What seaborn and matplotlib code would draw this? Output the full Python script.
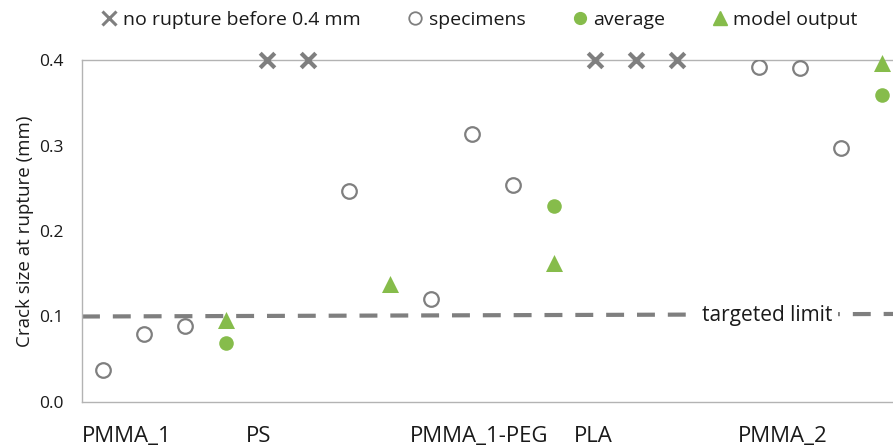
import numpy as np
import pandas as pd
import matplotlib.pyplot as plt
import seaborn as sns
from matplotlib.lines import Line2D

# categories (4 slots each on the x axis)
materials = ["PMMA_1", "PS", "PMMA_1-PEG", "PLA", "PMMA_2"]
slots_per_material = 4

# specimens (slot index, crack size mm)
spec_slot = [0, 1, 2, 6, 8, 9, 10, 16, 17, 18]
spec_val = [0.037, 0.079, 0.089, 0.247, 0.120, 0.313, 0.254, 0.392, 0.391, 0.297]

# no rupture before 0.4 mm
norup_slot = [4, 5, 12, 13, 14]
norup_val = [0.4, 0.4, 0.4, 0.4, 0.4]

# average
avg_slot = [3, 11, 19]
avg_val = [0.069, 0.229, 0.359]

# model output
model_slot = [3, 7, 11, 19]
model_val = [0.096, 0.138, 0.162, 0.396]

# targeted limit line (ends)
limit_x = [-0.5, 19.5]
limit_y = [0.100, 0.103]

gray = "#7f7f7f"
green = "#86bc4b"
axcol = "#b3b3b3"
txt = "#1a1a1a"

sns.set_style("white")
plt.rcParams["font.family"] = ["Open Sans", "DejaVu Sans"]
plt.rcParams["text.color"] = txt
plt.rcParams["axes.labelcolor"] = txt
plt.rcParams["xtick.color"] = axcol
plt.rcParams["ytick.color"] = axcol
plt.rcParams["xtick.labelcolor"] = txt
plt.rcParams["ytick.labelcolor"] = txt

fig = plt.figure(figsize=(8.93, 4.46), dpi=100)
ax = fig.add_axes([82 / 893, 44 / 446, 820 / 893, 342 / 446])

# targeted limit
sns.lineplot(x=limit_x, y=limit_y, ax=ax, color=gray, linewidth=3,
             dashes=False, zorder=1)
ax.lines[-1].set_dashes((4.3, 3.1))
ax.text(16.2, 0.1015, "targeted limit", ha="center", va="center", fontsize=15,
        color=txt, zorder=2,
        bbox=dict(boxstyle="square,pad=0.3", fc="white", ec="none"))

df_spec = pd.DataFrame({"slot": spec_slot, "val": spec_val})
df_norup = pd.DataFrame({"slot": norup_slot, "val": norup_val})
df_avg = pd.DataFrame({"slot": avg_slot, "val": avg_val})
df_model = pd.DataFrame({"slot": model_slot, "val": model_val})

sns.scatterplot(data=df_spec, x="slot", y="val", ax=ax, marker="o", s=110,
                facecolor="white", edgecolor=gray, linewidth=1.6, zorder=3)
sns.scatterplot(data=df_norup, x="slot", y="val", ax=ax, marker="x", s=110,
                color=gray, linewidth=3, zorder=3, clip_on=False)
sns.scatterplot(data=df_avg, x="slot", y="val", ax=ax, marker="o", s=110,
                color=green, edgecolor=green, linewidth=0, zorder=4)
sns.scatterplot(data=df_model, x="slot", y="val", ax=ax, marker="^", s=150,
                color=green, edgecolor=green, linewidth=0, zorder=4, clip_on=False)

ax.set_xlim(-0.5, 19.5)
ax.set_ylim(0, 0.4)
ax.set_yticks([0.0, 0.1, 0.2, 0.3, 0.4])
ax.set_yticklabels(["0.0", "0.1", "0.2", "0.3", "0.4"], fontsize=12.5)
tick_pos = [-0.5 + slots_per_material * i for i in range(len(materials))]
ax.set_xticks(tick_pos)
ax.set_xticklabels(materials, fontsize=16, ha="left")
ax.tick_params(axis="x", direction="inout", length=12, width=1, pad=11)
ax.tick_params(axis="y", direction="out", length=4, width=1, pad=9)
ax.set_xlabel("")
ax.set_ylabel("Crack size at rupture (mm)", fontsize=13.5, labelpad=4)

for side in ["left", "bottom", "top"]:
    ax.spines[side].set_color(axcol)
    ax.spines[side].set_linewidth(1)
ax.spines["right"].set_visible(False)

handles = [
    Line2D([], [], ls="none", marker="x", ms=10, mew=2.2, color=gray),
    Line2D([], [], ls="none", marker="o", ms=9, mfc="white", mec=gray, mew=1.3),
    Line2D([], [], ls="none", marker="o", ms=8.5, mfc=green, mec=green),
    Line2D([], [], ls="none", marker="^", ms=10, mfc=green, mec=green),
]
labels = ["no rupture before 0.4 mm", "specimens", "average", "model output"]
fig.legend(handles, labels, loc="center", bbox_to_anchor=(0.537, 0.955), ncol=4,
           frameon=False, fontsize=14, handlelength=0.8, handletextpad=0.3,
           columnspacing=2.4)

fig.savefig("out.png", dpi=100)
